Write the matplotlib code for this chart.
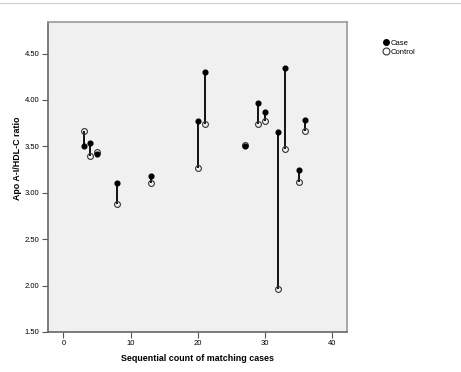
import matplotlib
matplotlib.use("Agg")
import matplotlib.pyplot as plt
from matplotlib.lines import Line2D

plt.rcParams['font.family'] = ['Liberation Sans', 'DejaVu Sans']

# matched pairs: sequential count, case and control Apo A-I/HDL-C ratio
seq = [3, 4, 5, 8, 13, 20, 21, 27, 29, 30, 32, 33, 35, 36]
case = [3.50, 3.54, 3.42, 3.11, 3.18, 3.77, 4.30, 3.50, 3.97, 3.87, 3.66, 4.34, 3.25, 3.78]
control = [3.67, 3.40, 3.44, 2.88, 3.10, 3.27, 3.74, 3.51, 3.74, 3.77, 1.96, 3.47, 3.12, 3.67]
yticks = [1.5, 2.0, 2.5, 3.0, 3.5, 4.0, 4.5]
xticks = [0, 10, 20, 30, 40]

fig = plt.figure(figsize=(4.61, 3.72), dpi=100)
ax = fig.add_axes([48 / 461, 1 - 332 / 372, 299 / 461, 310 / 372])
ax.set_facecolor('#f0f0f0')

ax.vlines(seq, case, control, colors='black', linewidth=1.3, zorder=2)
ax.plot(seq, control, 'o', markersize=4.2, markerfacecolor='none',
        markeredgecolor='#333333', markeredgewidth=0.8, zorder=3)
ax.plot(seq, case, 'o', markersize=3.4, color='black', zorder=4)

ax.set_xlim(-2.3, 42.2)
ax.set_ylim(1.5, 4.84)
ax.set_xticks(xticks)
ax.set_yticks(yticks)
ax.set_yticklabels(['%.2f' % v for v in yticks])
ax.tick_params(labelsize=5.5, length=4, width=0.8, color='#555555', pad=2)

for side in ['left', 'bottom']:
    ax.spines[side].set_color('#666666')
    ax.spines[side].set_linewidth(1.2)
for side in ['top', 'right']:
    ax.spines[side].set_color('#999999')
    ax.spines[side].set_linewidth(1.2)

ax.set_xlabel('Sequential count of matching cases', fontsize=6.4, fontweight='bold')
ax.xaxis.set_label_coords(0.5, -22 / 310)
ax.set_ylabel('Apo A-I/HDL-C ratio', fontsize=6.4, fontweight='bold')
ax.yaxis.set_label_coords(-26 / 299, 0.56)

handles = [
    Line2D([], [], marker='o', linestyle='none', markersize=4, color='black'),
    Line2D([], [], marker='o', linestyle='none', markersize=5, markerfacecolor='none',
           markeredgecolor='#333333', markeredgewidth=0.8),
]
fig.legend(handles, ['Case', 'Control'], loc='upper left', bbox_to_anchor=(380 / 461, 1 - 36 / 372),
           frameon=False, fontsize=5.5, handlelength=0.6, handletextpad=0.3,
           labelspacing=0.2, borderpad=0)

# thin gray line across the top of the picture
fig.add_artist(Line2D([0, 1], [1 - 3 / 372, 1 - 3 / 372], color='#cccccc', linewidth=0.8))

fig.savefig('out.png', dpi=100)
